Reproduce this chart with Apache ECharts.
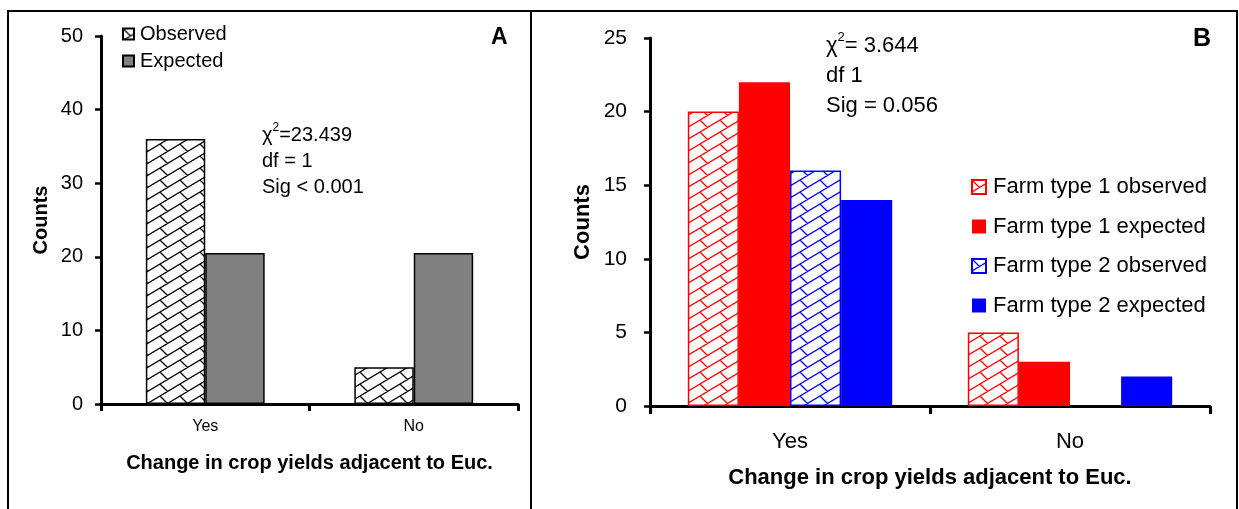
<!DOCTYPE html>
<html><head><meta charset="utf-8">
<script src="https://cdn.jsdelivr.net/npm/echarts@6/dist/echarts.min.js"></script>
<style>html,body{margin:0;padding:0;background:#fff}#c{width:1239px;height:509px}</style>
</head><body><div id="c"></div>
<script>
const categoriesA = ['Yes', 'No'];
const observedA = [36, 5];
const expectedA = [20.5, 20.5];
const categoriesB = ['Yes', 'No'];
const ft1ObservedB = [20, 5];
const ft1ExpectedB = [22, 3];
const ft2ObservedB = [16, 0];
const ft2ExpectedB = [14, 2];
const ticksA = [0, 10, 20, 30, 40, 50];
const ticksB = [0, 5, 10, 15, 20, 25];

const FONT = '"Liberation Sans", Arial, sans-serif';

function hatch(col) {
  const w = 20, h = 12;
  const c = document.createElement('canvas');
  c.width = w; c.height = h;
  const g = c.getContext('2d');
  g.fillStyle = '#fff'; g.fillRect(0, 0, w, h);
  g.strokeStyle = col; g.lineWidth = 1.3;
  g.beginPath();
  g.moveTo(-5, h + 3); g.lineTo(w + 5, -3);
  g.moveTo(-5, 2 * h + 3); g.lineTo(w + 5, h - 3);
  g.moveTo(-5, 3); g.lineTo(w + 5, -h - 3);
  g.moveTo(0, 0); g.lineTo(7.5, 7.5);
  g.moveTo(w, 0); g.lineTo(w + 7.5, 7.5);
  g.moveTo(0, h); g.lineTo(7.5, h + 7.5);
  g.moveTo(0, -h); g.lineTo(7.5, -h + 7.5);
  g.stroke();
  return { image: c, repeat: 'repeat' };
}

const chart = echarts.init(document.getElementById('c'), null, { renderer: 'canvas' });

const axisLineStyle = { show: true, lineStyle: { color: '#000', width: 3 } };

function noZeroBorder(arr) {
  return arr.map(v => v === 0 ? { value: v, itemStyle: { borderWidth: 0 } } : v);
}

chart.setOption({
  animation: false,
  backgroundColor: '#fff',
  grid: [
    { left: 101, top: 36, width: 417, height: 368 },
    { left: 650, top: 38, width: 560, height: 368 }
  ],
  legend: [
    {
      data: ['Observed', 'Expected'],
      orient: 'vertical', left: 122, top: 24, padding: 0, itemWidth: 11, itemHeight: 11, itemGap: 7,
      textStyle: { fontFamily: FONT, fontSize: 20, color: '#000', padding: [0, 0, 0, 1] },
      icon: 'rect'
    },
    {
      data: ['Farm type 1 observed', 'Farm type 1 expected', 'Farm type 2 observed', 'Farm type 2 expected'],
      orient: 'vertical', left: 971, top: 176, padding: 0, itemWidth: 14, itemHeight: 14, itemGap: 17.5,
      textStyle: { fontFamily: FONT, fontSize: 22, color: '#000', padding: [0, 0, 0, 2] },
      icon: 'rect'
    }
  ],
  xAxis: [
    {
      gridIndex: 0, type: 'category', data: categoriesA,
      axisLine: axisLineStyle,
      axisTick: { show: true, length: 7, lineStyle: { color: '#000', width: 3 } },
      axisLabel: { fontFamily: FONT, fontSize: 16, color: '#000', margin: 15 },
      name: 'Change in crop yields adjacent to Euc.', nameLocation: 'middle', nameGap: 49,
      nameTextStyle: { fontFamily: FONT, fontSize: 20, fontWeight: 'bold', color: '#000' }
    },
    {
      gridIndex: 1, type: 'category', data: categoriesB,
      axisLine: axisLineStyle,
      axisTick: { show: true, length: 8, lineStyle: { color: '#000', width: 3 } },
      axisLabel: { fontFamily: FONT, fontSize: 22, color: '#000', margin: 25 },
      name: 'Change in crop yields adjacent to Euc.', nameLocation: 'middle', nameGap: 61,
      nameTextStyle: { fontFamily: FONT, fontSize: 22, fontWeight: 'bold', color: '#000' }
    }
  ],
  yAxis: [
    {
      gridIndex: 0, type: 'value', min: ticksA[0], max: ticksA[ticksA.length - 1], interval: 10,
      axisLine: axisLineStyle,
      axisTick: { show: true, length: 6, lineStyle: { color: '#000', width: 2.5 } },
      splitLine: { show: false },
      axisLabel: { fontFamily: FONT, fontSize: 20, color: '#000', margin: 18 },
      name: 'Counts', nameLocation: 'middle', nameGap: 50, nameRotate: 90,
      nameTextStyle: { fontFamily: FONT, fontSize: 20, fontWeight: 'bold', color: '#000' }
    },
    {
      gridIndex: 1, type: 'value', min: ticksB[0], max: ticksB[ticksB.length - 1], interval: 5,
      axisLine: axisLineStyle,
      axisTick: { show: true, length: 6, lineStyle: { color: '#000', width: 2.5 } },
      splitLine: { show: false },
      axisLabel: { fontFamily: FONT, fontSize: 21, color: '#000', margin: 23 },
      name: 'Counts', nameLocation: 'middle', nameGap: 56, nameRotate: 90,
      nameTextStyle: { fontFamily: FONT, fontSize: 22, fontWeight: 'bold', color: '#000' }
    }
  ],
  series: [
    { name: 'Observed', type: 'bar', xAxisIndex: 0, yAxisIndex: 0, data: observedA,
      barGap: '0%', barCategoryGap: '43%', z: 1,
      itemStyle: { color: hatch('#000'), borderColor: '#000', borderWidth: 1.5 } },
    { name: 'Expected', type: 'bar', xAxisIndex: 0, yAxisIndex: 0, data: expectedA,
      barGap: '0%', barCategoryGap: '43%', z: 1,
      itemStyle: { color: '#808080', borderColor: '#000', borderWidth: 1.5 } },
    { name: 'Farm type 1 observed', type: 'bar', xAxisIndex: 1, yAxisIndex: 1, data: noZeroBorder(ft1ObservedB),
      barGap: '0%', barCategoryGap: '27%', z: 1,
      itemStyle: { color: hatch('#ff0000'), borderColor: '#ff0000', borderWidth: 1.5 } },
    { name: 'Farm type 1 expected', type: 'bar', xAxisIndex: 1, yAxisIndex: 1, data: ft1ExpectedB,
      barGap: '0%', barCategoryGap: '27%', z: 1,
      itemStyle: { color: '#ff0000' } },
    { name: 'Farm type 2 observed', type: 'bar', xAxisIndex: 1, yAxisIndex: 1, data: noZeroBorder(ft2ObservedB),
      barGap: '0%', barCategoryGap: '27%', z: 1,
      itemStyle: { color: hatch('#0000ff'), borderColor: '#0000ff', borderWidth: 1.5 } },
    { name: 'Farm type 2 expected', type: 'bar', xAxisIndex: 1, yAxisIndex: 1, data: ft2ExpectedB,
      barGap: '0%', barCategoryGap: '27%', z: 1,
      itemStyle: { color: '#0000ff' } }
  ],
  graphic: [
    { type: 'rect', shape: { x: 8, y: 11, width: 523, height: 510 }, style: { fill: 'none', stroke: '#000', lineWidth: 2 }, z: -1, silent: true },
    { type: 'rect', shape: { x: 531, y: 11, width: 706, height: 510 }, style: { fill: 'none', stroke: '#000', lineWidth: 2 }, z: -1, silent: true },
    { type: 'text', left: 491, top: 26, style: { text: 'A', font: 'bold 23px ' + FONT, fill: '#000' } },
    { type: 'text', left: 1193, top: 27, style: { text: 'B', font: 'bold 25px ' + FONT, fill: '#000' } },
    { type: 'text', left: 262, top: 122, style: {
        text: '{t|χ}{s|2}{t|=23.439}\n{t|df = 1}\n{t|Sig < 0.001}',
        rich: { t: { fontFamily: FONT, fontSize: 20, fill: '#000', lineHeight: 26 },
                s: { fontFamily: FONT, fontSize: 12, fill: '#000', verticalAlign: 'top', lineHeight: 26, padding: [0, 0, 8, 0] } } } },
    { type: 'text', left: 826, top: 31, style: {
        text: '{t|χ}{s|2}{t|= 3.644}\n{t|df 1}\n{t|Sig = 0.056}',
        rich: { t: { fontFamily: FONT, fontSize: 22, fill: '#000', lineHeight: 30 },
                s: { fontFamily: FONT, fontSize: 13, fill: '#000', verticalAlign: 'top', lineHeight: 30, padding: [0, 0, 10, 0] } } } }
  ]
});
</script></body></html>
